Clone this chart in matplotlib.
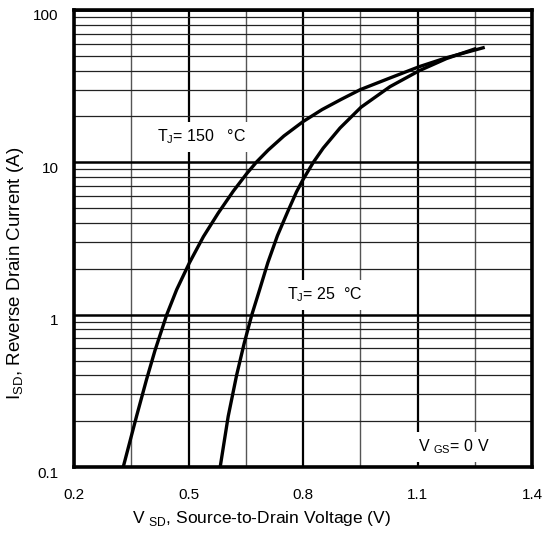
import matplotlib
matplotlib.use('Agg')
import matplotlib.pyplot as plt
import matplotlib.transforms as mtransforms
from matplotlib.ticker import FixedLocator, NullFormatter

plt.rcParams['font.family'] = ['Liberation Sans', 'DejaVu Sans']
plt.rcParams['mathtext.fontset'] = 'custom'
plt.rcParams['mathtext.rm'] = 'Liberation Sans'

# data (V_SD in V, I_SD in A)
v_150 = [0.329, 0.364, 0.390, 0.412, 0.443, 0.469, 0.502, 0.539, 0.578, 0.617, 0.652,
         0.679, 0.709, 0.750, 0.800, 0.850, 0.900, 0.950, 1.028, 1.105, 1.176, 1.272]
i_150 = [0.1, 0.216, 0.375, 0.58, 1.0, 1.46, 2.18, 3.25, 4.65, 6.45, 8.4,
         10.1, 12.05, 14.9, 18.5, 22.2, 25.9, 30, 35.8, 42.5, 48.6, 56.5]

v_25 = [0.583, 0.604, 0.626, 0.646, 0.666, 0.686, 0.708, 0.733, 0.760, 0.783, 0.800,
        0.827, 0.853, 0.897, 0.952, 1.028, 1.105, 1.176, 1.250]
i_25 = [0.1, 0.215, 0.40, 0.65, 1.0, 1.45, 2.2, 3.3, 4.75, 6.4, 7.7,
        10.0, 12.4, 16.8, 23.0, 31.4, 40.0, 48.0, 55.5]

x_major = [0.2, 0.5, 0.8, 1.1, 1.4]
x_minor = [0.35, 0.65, 0.95, 1.25]
x_labels = ['0.2', '0.5', '0.8', '1.1', '1.4']
y_major = [0.1, 1, 10, 100]
y_labels = ['0.1', '1', '10', '100']
y_minor = [m * d for d in (0.1, 1, 10) for m in range(2, 10)]

fig = plt.figure(figsize=(5.44, 5.33), dpi=100)
W, H = 544, 533
ax = fig.add_axes([74 / W, (H - 467) / H, (532 - 74) / W, (467 - 10) / H])

ax.set_yscale('log')
ax.set_xlim(0.2, 1.4)
ax.set_ylim(0.1, 100)

ax.xaxis.set_major_locator(FixedLocator(x_major))
ax.xaxis.set_minor_locator(FixedLocator(x_minor))
ax.set_xticklabels(x_labels)
ax.xaxis.set_minor_formatter(NullFormatter())
ax.yaxis.set_major_locator(FixedLocator(y_major))
ax.yaxis.set_minor_locator(FixedLocator(y_minor))
ax.set_yticklabels(y_labels)
ax.yaxis.set_minor_formatter(NullFormatter())

ax.tick_params(which='both', length=0, labelsize=11, colors='black')
ax.tick_params(axis='x', pad=15)
ax.tick_params(axis='y', pad=11)
# y labels sit a little below their lines in the original
shift = mtransforms.ScaledTranslation(0, -5 / 100, fig.dpi_scale_trans)
for lab in ax.get_yticklabels():
    lab.set_transform(lab.get_transform() + shift)

# grid
ax.grid(which='major', axis='x', color='black', lw=1.6)
ax.grid(which='minor', axis='x', color='#555555', lw=1.0)
ax.grid(which='major', axis='y', color='black', lw=1.8)
ax.grid(which='minor', axis='y', color='#222222', lw=0.9)
ax.set_axisbelow(True)

for sp in ax.spines.values():
    sp.set_linewidth(2.6)

ax.plot(v_150, i_150, color='black', lw=2.4, solid_joinstyle='round', zorder=3)
ax.plot(v_25, i_25, color='black', lw=2.4, solid_joinstyle='round', zorder=3)

box = dict(facecolor='white', edgecolor='none', pad=4)
ax.text(0.535, 14.7, r'T$_\mathregular{J}$= 150   °C', fontsize=11.5, ha='center',
        va='center', bbox=box, zorder=4)
ax.text(0.858, 1.35, r'T$_\mathregular{J}$= 25  °C', fontsize=11.5, ha='center',
        va='center', bbox=box, zorder=4)
ax.text(1.196, 0.136, r'V $_\mathregular{GS}$= 0 V', fontsize=11.5, ha='center',
        va='center', bbox=box, zorder=4)

ax.set_xlabel(r'V $_\mathregular{SD}$, Source-to-Drain Voltage (V)', fontsize=12.5)
ax.set_ylabel(r'I$_\mathregular{SD}$, Reverse Drain Current (A)', fontsize=13.5)
ax.xaxis.set_label_coords(0.41, -0.112)
ax.xaxis.label.set_va('center')
ax.yaxis.set_label_coords(-0.127, 0.424)
ax.yaxis.label.set_va('center')

fig.savefig('out.png', dpi=100)
